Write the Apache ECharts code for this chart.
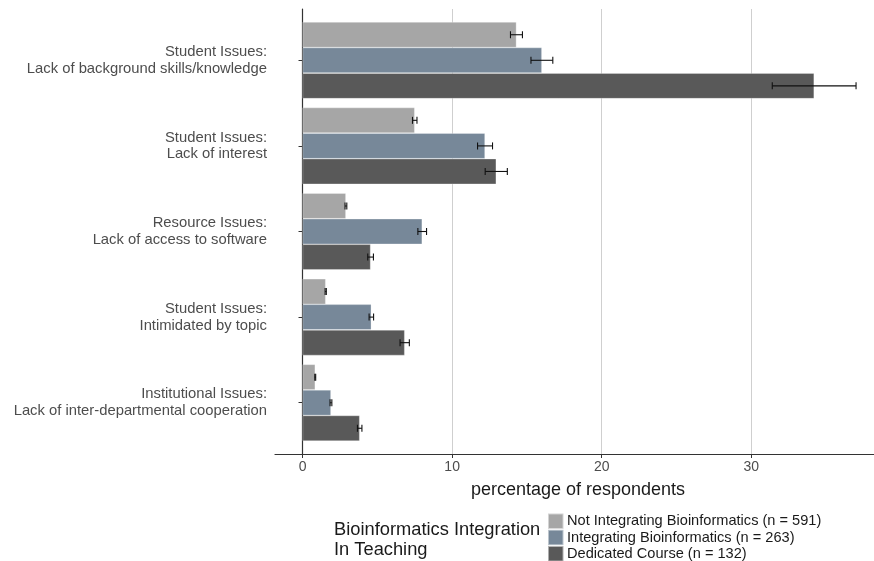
<!DOCTYPE html>
<html>
<head>
<meta charset="utf-8">
<script src="https://cdn.jsdelivr.net/npm/echarts@6/dist/echarts.min.js"></script>
<style>
html,body{margin:0;padding:0;background:#fff;}
#chart{width:874px;height:561px;}
</style>
</head>
<body>
<div id="chart"></div>
<script>
const categories = [
  "Student Issues:\nLack of background skills/knowledge",
  "Student Issues:\nLack of interest",
  "Resource Issues:\nLack of access to software",
  "Student Issues:\nIntimidated by topic",
  "Institutional Issues:\nLack of inter-departmental cooperation"
];
const seriesNames = [
  "Not Integrating Bioinformatics (n = 591)",
  "Integrating Bioinformatics (n = 263)",
  "Dedicated Course (n = 132)"
];
const notIntegrating = [14.3, 7.5, 2.9, 1.55, 0.85];
const integrating = [16.0, 12.2, 8.0, 4.6, 1.9];
const dedicated = [34.2, 12.95, 4.55, 6.83, 3.82];
const notIntegratingErr = [0.4, 0.15, 0.06, 0.04, 0.03];
const integratingErr = [0.73, 0.5, 0.29, 0.15, 0.06];
const dedicatedErr = [2.8, 0.74, 0.19, 0.31, 0.15];
const xTicks = [0, 10, 20, 30];

const colors = ['#a6a6a6', '#778899', '#595959'];
const FONT = "'Liberation Sans', Arial, Helvetica, sans-serif";
const catGap = 0.104;

function barSeries(i, vals) {
  return {
    name: seriesNames[i], type: 'bar', xAxisIndex: 0, yAxisIndex: 0,
    data: vals, barGap: '0%', barCategoryGap: (catGap*100)+'%',
    itemStyle: {color: colors[i], borderColor: 'rgba(255,255,255,0.5)', borderWidth: 0.6},
    emphasis: {disabled: true}, animation: false
  };
}
function errSeries(i, vals, errs) {
  return {
    type: 'custom', xAxisIndex: 0, yAxisIndex: 0, z: 10, animation: false,
    data: vals.map((v, k) => [k, v - errs[k], v + errs[k]]),
    encode: {x: [1, 2], y: 0},
    renderItem: function (params, api) {
      const c = api.value(0);
      const lo = api.coord([api.value(1), c]);
      const hi = api.coord([api.value(2), c]);
      const band = api.size([0, 1])[1];
      const bw = band * (1 - catGap) / 3;
      const y = lo[1] + (i - 1) * bw;
      const cap = 3.5;
      const st = {stroke: '#111', lineWidth: 1.1};
      return {type: 'group', children: [
        {type: 'line', shape: {x1: lo[0], y1: y, x2: hi[0], y2: y}, style: st},
        {type: 'line', shape: {x1: lo[0], y1: y - cap, x2: lo[0], y2: y + cap}, style: st},
        {type: 'line', shape: {x1: hi[0], y1: y - cap, x2: hi[0], y2: y + cap}, style: st}
      ]};
    }
  };
}

const chart = echarts.init(document.getElementById('chart'), null, {renderer: 'canvas'});
const xMin = -1.84, xMax = 38.2;
chart.setOption({
  animation: false,
  textStyle: {fontFamily: FONT},
  title: {
    text: 'Bioinformatics Integration\nIn Teaching',
    left: 334, top: 520.5, padding: 0,
    textStyle: {fontFamily: FONT, fontSize: 18.3, fontWeight: 'normal', color: '#1a1a1a', lineHeight: 19.5}
  },
  legend: {
    data: seriesNames, orient: 'vertical', left: 547, top: 512.5, width: 320, height: 80, padding: 0,
    itemWidth: 15.5, itemHeight: 15.5, itemGap: -1.2, icon: 'rect',
    textStyle: {fontFamily: FONT, fontSize: 14.6, color: '#1a1a1a', lineHeight: 15.5, padding: [0,0,0,-1.5]},
    selectedMode: false
  },
  grid: [
    {left: 275, right: 0, top: 17.5, height: 428},
    {left: 275, right: 0, top: 9, bottom: 107}
  ],
  xAxis: [
    {type: 'value', gridIndex: 0, min: xMin, max: xMax, show: false},
    {type: 'value', gridIndex: 1, min: xMin, max: xMax,
     axisLine: {show: true, lineStyle: {color: '#333', width: 1.2}},
     axisTick: {show: true, customValues: xTicks, length: 4, lineStyle: {color: '#333'}},
     axisLabel: {customValues: xTicks, fontSize: 14, color: '#4d4d4d', margin: 6, fontFamily: FONT},
     splitLine: {show: true, lineStyle: {color: '#cfcfcf', width: 1}},
     name: 'percentage of respondents', nameLocation: 'middle', nameGap: 27,
     nameTextStyle: {fontSize: 18, color: '#1a1a1a', fontFamily: FONT, padding: [0, 0, 0, 7]}
    }
  ],
  yAxis: [
    {type: 'category', gridIndex: 0, data: categories, inverse: true,
     axisLine: {show: false},
     axisTick: {show: true, length: 4, alignWithLabel: true, lineStyle: {color: '#333'}},
     axisLabel: {fontSize: 14.8, color: '#4d4d4d', margin: 8, lineHeight: 16.8, align: 'right', fontFamily: FONT, interval: 0, padding: [5, 0, 0, 0]}
    },
    {type: 'value', gridIndex: 1, min: 0, max: 1,
     axisLine: {show: true, lineStyle: {color: '#333', width: 1.2}},
     axisTick: {show: false}, axisLabel: {show: false}, splitLine: {show: false}
    }
  ],
  series: [
    barSeries(0, notIntegrating),
    barSeries(1, integrating),
    barSeries(2, dedicated),
    errSeries(0, notIntegrating, notIntegratingErr),
    errSeries(1, integrating, integratingErr),
    errSeries(2, dedicated, dedicatedErr)
  ]
});
</script>
</body>
</html>
